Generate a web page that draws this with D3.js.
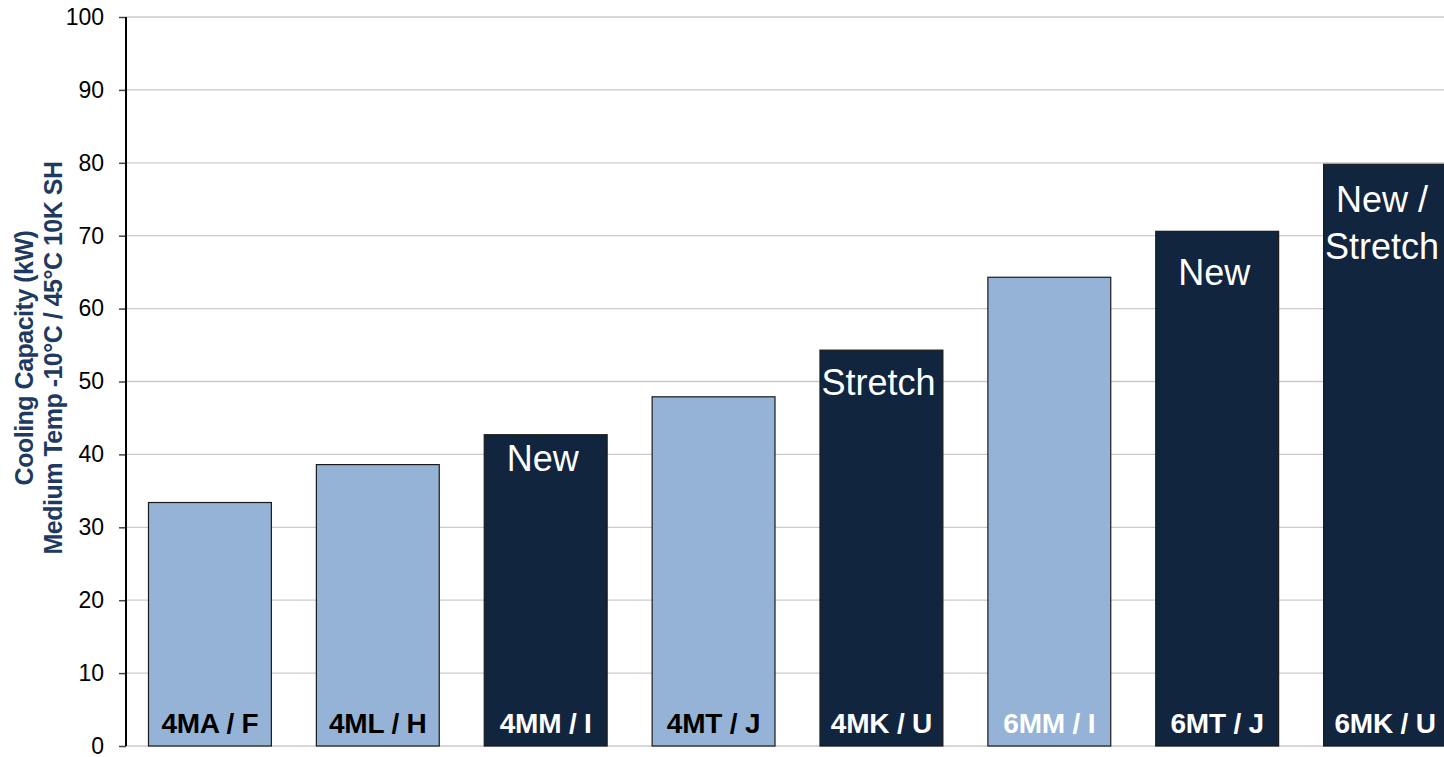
<!DOCTYPE html>
<html>
<head>
<meta charset="utf-8">
<script src="https://cdn.jsdelivr.net/npm/d3@7"></script>
<style>
  html, body { margin: 0; padding: 0; background: #fff; }
  svg { display: block; font-family: "Liberation Sans", Arial, sans-serif; }
</style>
</head>
<body>
<svg id="chart" width="1444" height="757"></svg>
<script>
// Compressor models and their cooling capacity (kW)
const models = ["4MA / F", "4ML / H", "4MM / I", "4MT / J", "4MK / U", "6MM / I", "6MT / J", "6MK / U"];
const capacity = [33.4, 38.6, 42.7, 47.9, 54.3, 64.3, 70.6, 79.8];
// Highlight flag: dark bars mark new / stretched models
const highlighted = [false, false, true, false, true, false, true, true];
const notes = [[], [], ["New"], [], ["Stretch"], [], ["New"], ["New /", "Stretch"]];
const whiteLabel = [false, false, true, false, true, true, true, true];
const yTicks = [0, 10, 20, 30, 40, 50, 60, 70, 80, 90, 100];

// Layout: distance from bar top to the first note baseline
const noteOffset = [0, 0, 36, 0, 45, 0, 54, 48];
const noteLineGap = 47;

const svg = d3.select("#chart");
const plotLeft = 126, plotRight = 1469, plotTop = 17, plotBottom = 746;

const x = d3.scaleBand().domain(models).range([plotLeft, plotRight])
  .paddingInner(0.268).paddingOuter(0.134);
const y = d3.scaleLinear().domain([0, 100]).range([plotBottom, plotTop]);

// Horizontal gridlines
svg.append("g").selectAll("line").data(yTicks).join("line")
  .attr("x1", plotLeft).attr("x2", 1444)
  .attr("y1", d => y(d)).attr("y2", d => y(d))
  .attr("stroke", "#cbcbcb").attr("stroke-width", 1.3);

// Bars
svg.append("g").selectAll("rect").data(models).join("rect")
  .attr("x", d => x(d))
  .attr("y", (d, i) => y(capacity[i]))
  .attr("width", x.bandwidth())
  .attr("height", (d, i) => y(0) - y(capacity[i]))
  .attr("fill", (d, i) => highlighted[i] ? "#12253f" : "#95b3d7")
  .attr("stroke", "#1a1a1a").attr("stroke-width", 1.2);

// Model names inside the bars
svg.append("g").selectAll("text").data(models).join("text")
  .attr("x", d => x(d) + x.bandwidth() / 2)
  .attr("y", 733)
  .attr("text-anchor", "middle")
  .attr("font-size", 28).attr("font-weight", "bold")
  .attr("letter-spacing", -0.2)
  .attr("fill", (d, i) => whiteLabel[i] ? "#fff" : "#000")
  .text(d => d);

// Notes near the bar tops
models.forEach((m, i) => {
  notes[i].forEach((line, j) => {
    svg.append("text")
      .attr("x", x(m) + x.bandwidth() / 2 - 3)
      .attr("y", y(capacity[i]) + noteOffset[i] + j * noteLineGap)
      .attr("text-anchor", "middle")
      .attr("font-size", 36)
      .attr("fill", "#fff")
      .text(line);
  });
});

// Y axis
const yAxis = d3.axisLeft(y).tickValues(yTicks).tickSize(7).tickPadding(15);
const gy = svg.append("g").attr("transform", `translate(${plotLeft},0)`).call(yAxis);
gy.select(".domain").remove();
gy.selectAll(".tick line").attr("stroke", "#444").attr("stroke-width", 1.5);
gy.selectAll(".tick text").attr("font-size", 23).attr("fill", "#000")
  .attr("font-family", "Liberation Sans, Arial, sans-serif");
svg.append("line").attr("x1", plotLeft).attr("x2", plotLeft).attr("y1", plotTop).attr("y2", plotBottom)
  .attr("stroke", "#000").attr("stroke-width", 2);

// Axis title
const title = svg.append("text")
  .attr("transform", "translate(0,358) rotate(-90)")
  .attr("text-anchor", "middle")
  .attr("font-size", 25).attr("font-weight", "bold")
  .attr("letter-spacing", -0.5)
  .attr("fill", "#1f3a60");
title.append("tspan").attr("x", 0).attr("y", 33).text("Cooling Capacity (kW)");
title.append("tspan").attr("x", 0).attr("y", 62).text("Medium Temp  -10°C / 45°C 10K SH");
</script>
</body>
</html>
